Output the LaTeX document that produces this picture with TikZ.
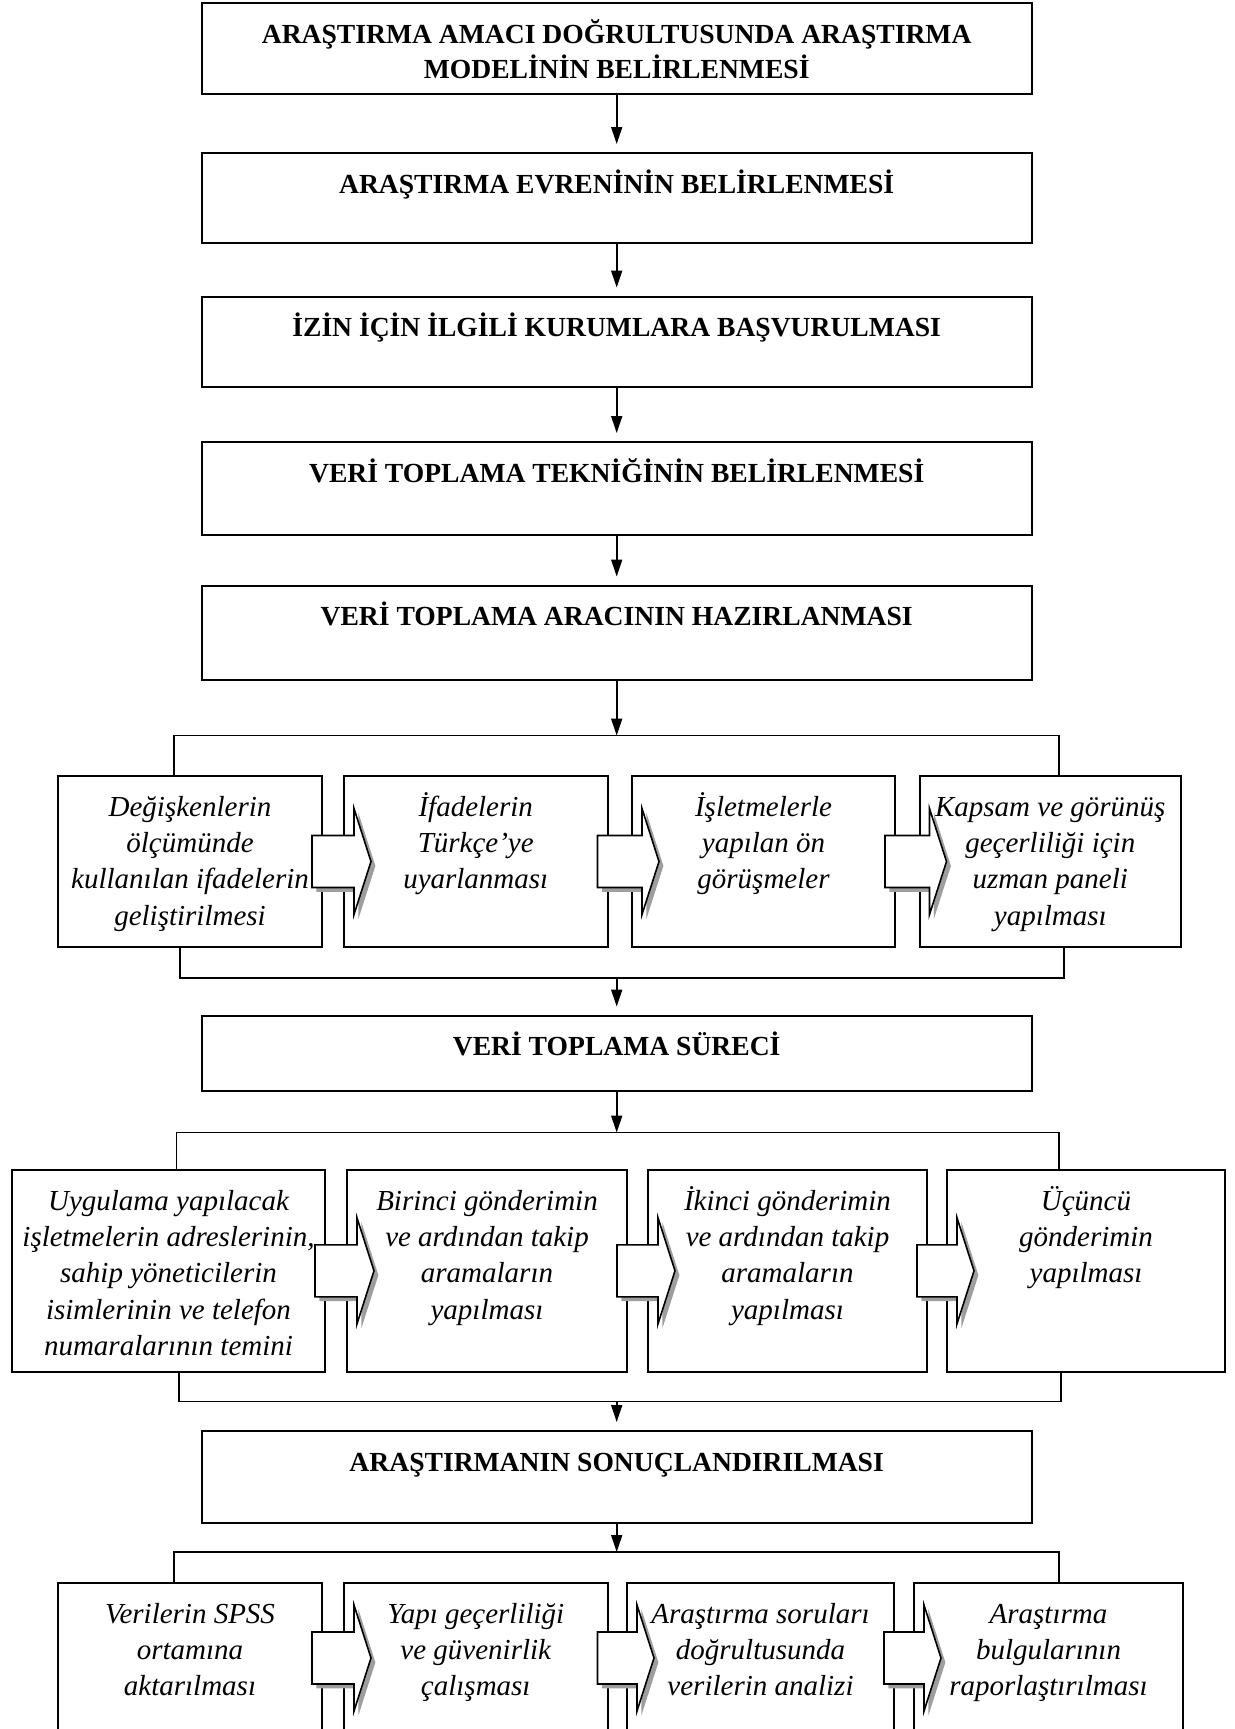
\documentclass[tikz,border=0pt]{standalone}
\usepackage{fontspec}
\setmainfont{Liberation Serif}
\usetikzlibrary{arrows.meta,calc}

\definecolor{shadowgray}{gray}{0.62}
\newcommand{\firstline}{\rule{0pt}{20pt}}
\newcommand{\boxtext}[3]{\begin{minipage}[t][#2][t]{#1}\centering\firstline #3\end{minipage}}
% block arrow from one box into the next one
\newcommand{\passon}[2]{%
  \path[blockarrow] let \p1=(#1.east), \p2=(#2.west) in
    (\x1-5.5pt,\y1+13pt) -- (\x2+5.5pt,\y1+13pt) -- (\x2+5.5pt,\y1+26.5pt)
    -- (\x2+14pt,\y1) -- (\x2+5.5pt,\y1-26.5pt) -- (\x2+5.5pt,\y1-13pt)
    -- (\x1-5.5pt,\y1-13pt) -- cycle;}

\tikzset{
  stepbox/.style={draw, line width=1pt, inner sep=0pt, anchor=north west,
    font=\fontsize{13.8}{17.5}\selectfont\bfseries},
  taskbox/.style={draw, line width=1pt, inner sep=0pt, anchor=north west,
    font=\fontsize{14.5}{18.2}\selectfont\itshape},
  link/.style={line width=0.9pt},
  flow/.style={link, -{Triangle[width=5.5pt,length=8.5pt]}},
  blockarrow/.style={draw, fill=white, line width=0.8pt,
    preaction={fill=shadowgray, transform canvas={shift={(2.2pt,-2.2pt)}}}},
}

\begin{document}
\begin{tikzpicture}[x=0.5pt,y=-0.5pt]
\useasboundingbox (0,0) rectangle (1235,1729);

% main steps
\node[stepbox] (s1) at (200.7,2) {\boxtext{415pt}{45.3pt}{ARAŞTIRMA AMACI DOĞRULTUSUNDA ARAŞTIRMA\\ MODELİNİN BELİRLENMESİ}};
\node[stepbox] (s2) at (200.7,152) {\boxtext{415pt}{44.75pt}{ARAŞTIRMA EVRENİNİN BELİRLENMESİ}};
\node[stepbox] (s3) at (200.7,295.5) {\boxtext{415pt}{45.25pt}{İZİN İÇİN İLGİLİ KURUMLARA BAŞVURULMASI}};
\node[stepbox] (s4) at (200.7,441) {\boxtext{415pt}{46.5pt}{VERİ TOPLAMA TEKNİĞİNİN BELİRLENMESİ}};
\node[stepbox] (s5) at (200.7,584.5) {\boxtext{415pt}{47.25pt}{VERİ TOPLAMA ARACININ HAZIRLANMASI}};
\node[stepbox] (s6) at (200.7,1014.5) {\boxtext{415pt}{37.5pt}{VERİ TOPLAMA SÜRECİ}};
\node[stepbox] (s7) at (200.7,1430) {\boxtext{415pt}{46pt}{ARAŞTIRMANIN SONUÇLANDIRILMASI}};

% row 1
\node[taskbox] (r1a) at (57,775) {\boxtext{132pt}{85.5pt}{Değişkenlerin\\ ölçümünde\\ kullanılan ifadelerin\\ geliştirilmesi}};
\node[taskbox] (r1b) at (343,775) {\boxtext{131.75pt}{85.5pt}{İfadelerin\\ Türkçe’ye\\ uyarlanması}};
\node[taskbox] (r1c) at (631,775) {\boxtext{131.5pt}{85.5pt}{İşletmelerle\\ yapılan ön\\ görüşmeler}};
\node[taskbox] (r1d) at (918.5,775) {\boxtext{130.75pt}{85.5pt}{Kapsam ve görünüş\\ geçerliliği için\\ uzman paneli\\ yapılması}};

% row 2
\node[taskbox] (r2a) at (11,1169) {\boxtext{156.5pt}{100.8pt}{Uygulama yapılacak\\ işletmelerin adreslerinin,\\ sahip yöneticilerin\\ isimlerinin ve telefon\\ numaralarının temini}};
\node[taskbox] (r2b) at (346,1169) {\boxtext{140pt}{100.8pt}{Birinci gönderimin\\ ve ardından takip\\ aramaların\\ yapılması}};
\node[taskbox] (r2c) at (647,1169) {\boxtext{139.5pt}{100.8pt}{İkinci gönderimin\\ ve ardından takip\\ aramaların\\ yapılması}};
\node[taskbox] (r2d) at (946,1169) {\boxtext{139pt}{100.8pt}{Üçüncü\\ gönderimin\\ yapılması}};

% row 3
\node[taskbox] (r3a) at (57,1582) {\boxtext{132pt}{75pt}{Verilerin SPSS\\ ortamına\\ aktarılması}};
\node[taskbox] (r3b) at (343,1582) {\boxtext{131.75pt}{75pt}{Yapı geçerliliği\\ ve güvenirlik\\ çalışması}};
\node[taskbox] (r3c) at (626,1582) {\boxtext{133.5pt}{75pt}{Araştırma soruları\\ doğrultusunda\\ verilerin analizi}};
\node[taskbox] (r3d) at (913,1582) {\boxtext{134.5pt}{75pt}{Araştırma\\ bulgularının\\ raporlaştırılması}};

% arrows between main steps
\draw[flow, shorten >=4pt] (s1) -- (s2);
\draw[flow, shorten >=4pt] (s2) -- (s3);
\draw[flow, shorten >=4pt] (s3) -- (s4);
\draw[flow, shorten >=4pt] (s4) -- (s5);

% brackets
\coordinate (j1l) at (174,735.5);   \coordinate (j1r) at (1058.6,735.5);
\coordinate (k1l) at (180,978);     \coordinate (k1r) at (1064,978);
\coordinate (j2l) at (176.5,1132.5); \coordinate (j2r) at (1058.6,1132.5);
\coordinate (k2l) at (178.6,1401.5); \coordinate (k2r) at (1061,1401.5);
\coordinate (j3l) at (174,1552);    \coordinate (j3r) at (1058.6,1552);

\draw[flow] (s5.south) -- (s5.south |- j1l);
\draw[link] (j1l |- r1a.north) -- (j1l) -- (j1r) -- (j1r |- r1d.north);
\draw[link] (k1l |- r1a.south) -- (k1l) -- (k1r) -- (k1r |- r1d.south);
\draw[flow, shorten >=4pt] (s6.north |- k1l) -- (s6.north);

\draw[flow] (s6.south) -- (s6.south |- j2l);
\draw[link] (j2l |- r2a.north) -- (j2l) -- (j2r) -- (j2r |- r2d.north);
\draw[link] (k2l |- r2a.south) -- (k2l) -- (k2r) -- (k2r |- r2d.south);
\draw[flow, shorten >=4pt] (s7.north |- k2l) -- (s7.north);

\draw[flow] (s7.south) -- (s7.south |- j3l);
\draw[link] (j3l |- r3a.north) -- (j3l) -- (j3r) -- (j3r |- r3d.north);

% block arrows
\passon{r1a}{r1b} \passon{r1b}{r1c} \passon{r1c}{r1d}
\passon{r2a}{r2b} \passon{r2b}{r2c} \passon{r2c}{r2d}
\passon{r3a}{r3b} \passon{r3b}{r3c} \passon{r3c}{r3d}
\end{tikzpicture}
\end{document}
